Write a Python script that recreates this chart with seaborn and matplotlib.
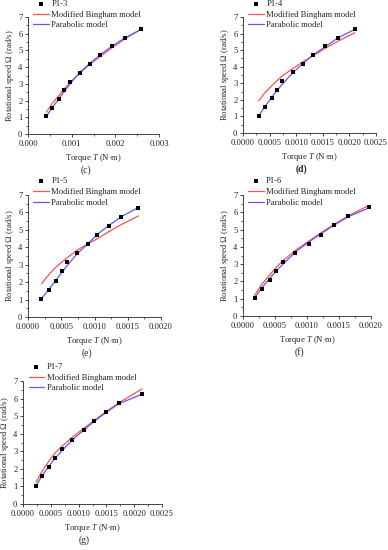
import matplotlib
matplotlib.use("Agg")
import matplotlib.pyplot as plt
import seaborn as sns
import pandas as pd
from matplotlib.ticker import AutoMinorLocator, MultipleLocator

sns.set_style("ticks")
plt.rcParams['font.family'] = ['Liberation Serif', 'DejaVu Serif']
plt.rcParams['mathtext.fontset'] = 'custom'
plt.rcParams['mathtext.rm'] = 'Liberation Serif'
plt.rcParams['mathtext.it'] = 'Liberation Serif:italic'

# rotational speed levels (rad/s), same for all samples
omega = [1.05, 1.57, 2.09, 2.62, 3.14, 3.66, 4.19, 4.71, 5.24, 5.76, 6.28]

# measured torque (N·m)
torque_p13 = [0.00042, 0.00056, 0.00071, 0.00083, 0.00097, 0.00119, 0.00143, 0.00166, 0.00192, 0.00222, 0.00258]
torque_p14 = [0.000296, 0.000415, 0.00054, 0.000635, 0.00074, 0.00094, 0.00113, 0.00131, 0.00154, 0.00179, 0.0021]
torque_p15 = [0.0002, 0.000317, 0.000417, 0.000508, 0.000588, 0.000744, 0.0009, 0.001045, 0.001216, 0.0014, 0.00166]
torque_p16 = [0.000182, 0.000297, 0.000422, 0.000516, 0.000625, 0.000818, 0.001036, 0.001214, 0.001422, 0.001646, 0.001969]
torque_p17 = [0.000234, 0.000341, 0.000467, 0.000575, 0.000707, 0.000886, 0.00109, 0.00128, 0.00149, 0.00172, 0.00214]

# model curves read at the measured torques
bingham_p13 = [1.3, 1.85, 2.3, 2.7, 3.1, 3.65, 4.2, 4.65, 5.15, 5.7, 6.25]
parabolic_p13 = [1.05, 1.6, 2.1, 2.55, 3.02, 3.7, 4.25, 4.75, 5.25, 5.75, 6.25]
bingham_p14 = [1.95, 2.45, 2.85, 3.15, 3.45, 3.9, 4.3, 4.65, 5.1, 5.55, 6.05]
parabolic_p14 = [1.05, 1.6, 2.15, 2.55, 2.95, 3.65, 4.2, 4.7, 5.2, 5.75, 6.25]
bingham_p15 = [1.9, 2.45, 2.85, 3.15, 3.4, 3.85, 4.2, 4.5, 4.9, 5.3, 5.8]
parabolic_p15 = [1.05, 1.6, 2.1, 2.55, 2.95, 3.65, 4.2, 4.75, 5.25, 5.75, 6.28]
bingham_p16 = [1.2, 1.85, 2.4, 2.8, 3.2, 3.8, 4.35, 4.8, 5.3, 5.8, 6.4]
parabolic_p16 = [1.05, 1.65, 2.2, 2.6, 3.0, 3.7, 4.3, 4.75, 5.25, 5.75, 6.25]
bingham_p17 = [1.25, 1.85, 2.45, 2.9, 3.3, 3.8, 4.3, 4.75, 5.25, 5.75, 6.55]
parabolic_p17 = [1.05, 1.6, 2.15, 2.6, 3.05, 3.65, 4.2, 4.7, 5.2, 5.7, 6.25]

W, H = 388, 550
fs = 6.2
fig = plt.figure(figsize=(W / 100, H / 100), dpi=100)


def panel(rect, torque, bing, para, name, xmax, xstep, fmt, tag, tag_bold=False):
    left, top, width, height = rect
    ax = fig.add_axes([left / W, 1 - (top + height) / H, width / W, height / H])
    df = pd.DataFrame({'T': torque, 'bing': bing, 'para': para, 'omega': omega})
    sns.lineplot(data=df, x='T', y='bing', ax=ax, color='#ff5050', lw=0.9,
                 label='Modified Bingham model', estimator=None)
    sns.lineplot(data=df, x='T', y='para', ax=ax, color='#5a5aff', lw=0.9,
                 label='Parabolic model', estimator=None)
    sns.scatterplot(data=df, x='T', y='omega', ax=ax, color='black', marker='s',
                    s=8, linewidth=0, label=name, zorder=5)
    ax.set_xlim(0, xmax)
    ax.set_ylim(0, 7)
    ax.xaxis.set_major_locator(MultipleLocator(xstep))
    ax.xaxis.set_minor_locator(AutoMinorLocator(2))
    ax.yaxis.set_major_locator(MultipleLocator(1))
    ax.yaxis.set_minor_locator(AutoMinorLocator(2))
    ax.xaxis.set_major_formatter(lambda v, p: fmt.format(v))
    ax.tick_params(labelsize=fs, width=0.6, length=2.5, pad=1.5)
    ax.tick_params(which='minor', width=0.5, length=1.5)
    for s in ['left', 'bottom']:
        ax.spines[s].set_linewidth(0.6)
    sns.despine(ax=ax)
    ax.set_xlabel(r'Torque $\mathit{T}$ (N$\cdot$m)', fontsize=fs, labelpad=3.5)
    ax.set_ylabel(r'Rotational speed $\mathit{\Omega}$ (rad/s)', fontsize=fs, labelpad=1.5)
    h, l = ax.get_legend_handles_labels()
    order = [2, 0, 1]
    ax.legend([h[i] for i in order], [l[i] for i in order], loc='upper left',
              bbox_to_anchor=(0.04, 1.145), frameon=False, fontsize=fs,
              handlelength=1.8, handletextpad=0.3, labelspacing=0.3,
              borderaxespad=0, borderpad=0)
    fig.text((left + width / 2 - 8) / W, 1 - (top + height + 36) / H, tag, fontsize=7,
             ha='center', va='center', fontweight='bold' if tag_bold else 'normal')
    return ax


panel((28, 17, 131, 117), torque_p13, bingham_p13, parabolic_p13, 'P1-3', 0.003, 0.001, '{:.3f}', '(c)')
panel((243, 17, 133, 116), torque_p14, bingham_p14, parabolic_p14, 'P1-4', 0.0025, 0.0005, '{:.4f}', '(d)', True)
panel((28, 195, 133, 122), torque_p15, bingham_p15, parabolic_p15, 'P1-5', 0.002, 0.0005, '{:.4f}', '(e)')
panel((243, 195, 128, 121), torque_p16, bingham_p16, parabolic_p16, 'P1-6', 0.002, 0.0005, '{:.4f}', '(f)')
panel((23, 381, 139, 123), torque_p17, bingham_p17, parabolic_p17, 'P1-7', 0.0025, 0.0005, '{:.4f}', '(g)')

fig.savefig('out.png', dpi=100)
